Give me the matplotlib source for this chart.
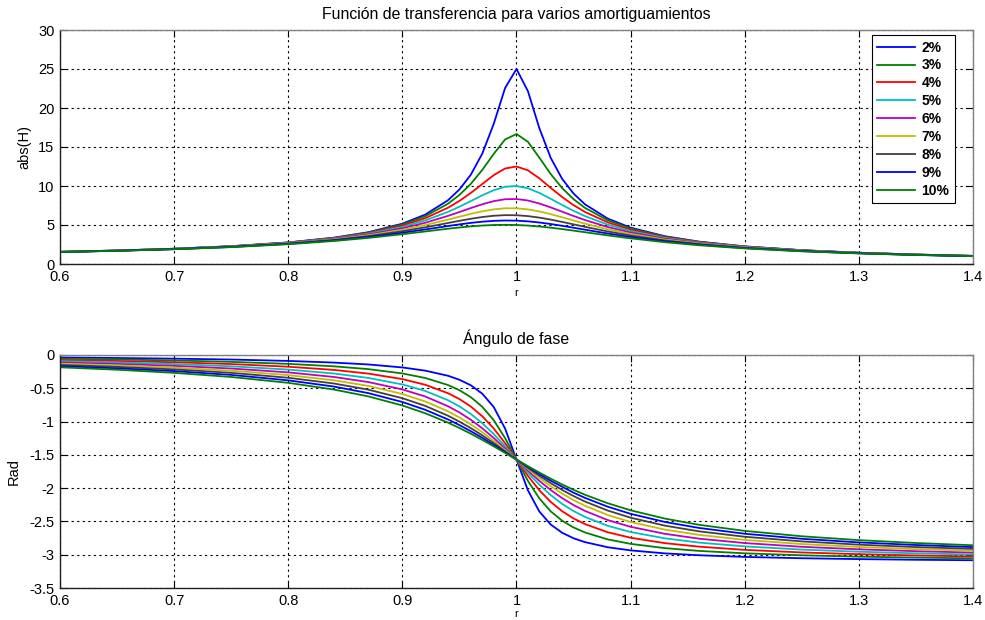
import matplotlib
matplotlib.use("Agg")
import matplotlib.pyplot as plt
from matplotlib.ticker import FuncFormatter

plt.rcParams['font.family'] = ['Liberation Sans', 'DejaVu Sans']

# ---------------- data ----------------
r = [0.60, 0.65, 0.70, 0.75, 0.80, 0.84, 0.87, 0.90, 0.92, 0.94, 0.95, 0.96, 0.97, 0.98, 0.99,
     1.00, 1.01, 1.02, 1.03, 1.04, 1.05, 1.06, 1.08, 1.10, 1.13, 1.16, 1.20, 1.25, 1.30, 1.35, 1.40]

labels = ['2%', '3%', '4%', '5%', '6%', '7%', '8%', '9%', '10%']

mag_02 = [1.561, 1.730, 1.958, 2.280, 2.767, 3.375, 4.072, 5.171, 6.331, 8.175, 9.557, 11.454, 14.145, 17.946, 22.564,
          25.0, 22.162, 17.416, 13.600, 10.917, 9.028, 7.653, 5.817, 4.661, 3.564, 2.868, 2.259, 1.771, 1.445, 1.213, 1.040]
mag_03 = [1.560, 1.728, 1.954, 2.274, 2.753, 3.348, 4.022, 5.063, 6.127, 7.732, 8.854, 10.279, 12.056, 14.107, 15.964,
          16.667, 15.664, 13.637, 11.526, 9.734, 8.312, 7.194, 5.600, 4.543, 3.508, 2.837, 2.243, 1.762, 1.440, 1.210, 1.038]
mag_04 = [1.558, 1.725, 1.949, 2.265, 2.735, 3.312, 3.955, 4.922, 5.871, 7.216, 8.089, 9.112, 10.252, 11.385, 12.246,
          12.5, 12.009, 10.982, 9.760, 8.581, 7.546, 6.672, 5.334, 4.392, 3.433, 2.795, 2.221, 1.750, 1.433, 1.206, 1.035]
mag_05 = [1.556, 1.721, 1.943, 2.253, 2.712, 3.266, 3.873, 4.757, 5.585, 6.684, 7.346, 8.068, 8.804, 9.461, 9.903,
          10.0, 9.711, 9.115, 8.357, 7.565, 6.815, 6.141, 5.041, 4.218, 3.344, 2.743, 2.193, 1.735, 1.424, 1.200, 1.031]
mag_06 = [1.553, 1.716, 1.935, 2.239, 2.684, 3.214, 3.780, 4.576, 5.287, 6.169, 6.666, 7.176, 7.660, 8.059, 8.302,
          8.333, 8.140, 7.758, 7.257, 6.706, 6.157, 5.638, 4.741, 4.032, 3.243, 2.684, 2.160, 1.718, 1.414, 1.193, 1.026]
mag_07 = [1.549, 1.711, 1.926, 2.223, 2.652, 3.154, 3.678, 4.386, 4.989, 5.692, 6.064, 6.427, 6.752, 7.003, 7.142,
          7.143, 7.002, 6.739, 6.389, 5.991, 5.580, 5.178, 4.448, 3.840, 3.136, 2.619, 2.123, 1.698, 1.401, 1.185, 1.021]
mag_08 = [1.545, 1.704, 1.915, 2.204, 2.617, 3.090, 3.570, 4.195, 4.700, 5.258, 5.538, 5.799, 6.022, 6.184, 6.264,
          6.25, 6.141, 5.948, 5.692, 5.396, 5.081, 4.765, 4.169, 3.650, 3.024, 2.549, 2.083, 1.675, 1.388, 1.176, 1.014]
mag_09 = [1.541, 1.697, 1.904, 2.184, 2.579, 3.022, 3.458, 4.005, 4.427, 4.869, 5.080, 5.270, 5.425, 5.531, 5.577,
          5.556, 5.467, 5.319, 5.124, 4.897, 4.651, 4.399, 3.908, 3.465, 2.911, 2.477, 2.040, 1.651, 1.373, 1.166, 1.008]
mag_10 = [1.536, 1.689, 1.891, 2.162, 2.538, 2.950, 3.345, 3.821, 4.172, 4.522, 4.683, 4.822, 4.931, 5.001, 5.025,
          5.0, 4.926, 4.809, 4.655, 4.476, 4.279, 4.075, 3.668, 3.288, 2.798, 2.402, 1.995, 1.625, 1.356, 1.155, 1.000]

ph_02 = [-0.037, -0.045, -0.055, -0.068, -0.089, -0.114, -0.142, -0.187, -0.235, -0.312, -0.372, -0.455, -0.581, -0.780, -1.105,
         -1.571, -2.032, -2.351, -2.547, -2.670, -2.753, -2.811, -2.888, -2.935, -2.980, -3.008, -3.033, -3.053, -3.066, -3.076, -3.083]
ph_03 = [-0.056, -0.067, -0.082, -0.103, -0.133, -0.170, -0.212, -0.277, -0.345, -0.451, -0.529, -0.634, -0.778, -0.978, -1.248,
         -1.571, -1.891, -2.154, -2.349, -2.489, -2.591, -2.666, -2.770, -2.837, -2.901, -2.943, -2.979, -3.009, -3.029, -3.043, -3.054]
ph_04 = [-0.075, -0.090, -0.109, -0.136, -0.176, -0.224, -0.279, -0.362, -0.447, -0.574, -0.662, -0.775, -0.920, -1.103, -1.325,
         -1.571, -1.815, -2.031, -2.207, -2.347, -2.455, -2.540, -2.663, -2.745, -2.826, -2.879, -2.927, -2.966, -2.992, -3.011, -3.026]
ph_05 = [-0.093, -0.112, -0.136, -0.170, -0.219, -0.278, -0.344, -0.442, -0.540, -0.679, -0.772, -0.886, -1.024, -1.187, -1.372,
         -1.571, -1.767, -1.948, -2.105, -2.236, -2.344, -2.432, -2.566, -2.659, -2.754, -2.818, -2.875, -2.923, -2.955, -2.979, -2.997]
ph_06 = [-0.112, -0.134, -0.163, -0.203, -0.261, -0.330, -0.406, -0.517, -0.623, -0.770, -0.863, -0.973, -1.101, -1.246, -1.405,
         -1.571, -1.735, -1.890, -2.029, -2.150, -2.254, -2.342, -2.480, -2.581, -2.686, -2.759, -2.825, -2.881, -2.919, -2.947, -2.968]
ph_07 = [-0.131, -0.156, -0.190, -0.236, -0.302, -0.380, -0.464, -0.586, -0.698, -0.846, -0.938, -1.043, -1.160, -1.290, -1.428,
         -1.571, -1.712, -1.847, -1.970, -2.082, -2.180, -2.265, -2.404, -2.509, -2.623, -2.702, -2.777, -2.840, -2.884, -2.916, -2.940]
ph_08 = [-0.149, -0.178, -0.216, -0.268, -0.342, -0.428, -0.520, -0.649, -0.764, -0.912, -1.001, -1.099, -1.207, -1.323, -1.446,
         -1.571, -1.695, -1.813, -1.925, -2.027, -2.119, -2.201, -2.337, -2.444, -2.563, -2.649, -2.730, -2.800, -2.849, -2.885, -2.912]
ph_09 = [-0.167, -0.200, -0.242, -0.299, -0.381, -0.474, -0.572, -0.706, -0.823, -0.968, -1.053, -1.145, -1.244, -1.350, -1.460,
         -1.571, -1.681, -1.787, -1.888, -1.979, -2.068, -2.146, -2.279, -2.386, -2.508, -2.598, -2.685, -2.761, -2.815, -2.854, -2.885]
ph_10 = [-0.185, -0.221, -0.268, -0.330, -0.418, -0.519, -0.621, -0.758, -0.875, -1.016, -1.097, -1.183, -1.275, -1.371, -1.471,
         -1.571, -1.670, -1.766, -1.858, -1.945, -2.025, -2.099, -2.227, -2.333, -2.457, -2.551, -2.642, -2.723, -2.781, -2.824, -2.858]

mags = [mag_02, mag_03, mag_04, mag_05, mag_06, mag_07, mag_08, mag_09, mag_10]
phases = [ph_02, ph_03, ph_04, ph_05, ph_06, ph_07, ph_08, ph_09, ph_10]

x_ticks = [0.6, 0.7, 0.8, 0.9, 1.0, 1.1, 1.2, 1.3, 1.4]
y1_ticks = [0, 5, 10, 15, 20, 25, 30]
y2_ticks = [-3.5, -3, -2.5, -2, -1.5, -1, -0.5, 0]

# MATLAB-style colour order
colors = ['#0000ff', '#008000', '#ff0000', '#00bfbf', '#bf00bf', '#bfbf00', '#404040', '#0000ff', '#008000']

# ---------------- figure ----------------
W, H = 985, 620
L, R = 60, 973
fig = plt.figure(figsize=(W / 100, H / 100), dpi=100)
ax1 = fig.add_axes([L / W, 1 - 264 / H, (R - L) / W, 234 / H])
ax2 = fig.add_axes([L / W, 1 - 588 / H, (R - L) / W, 233 / H])

fmt = FuncFormatter(lambda v, p: ('%g' % round(v, 4)))


def style(ax):
    ax.set_xlim(0.6, 1.4)
    ax.set_xticks(x_ticks)
    ax.xaxis.set_major_formatter(fmt)
    ax.yaxis.set_major_formatter(fmt)
    ax.grid(True, color='black', linestyle=(0, (2, 3)), linewidth=0.8)
    ax.tick_params(direction='in', length=5, width=0.8, top=True, right=True,
                   labelsize=10.5, pad=4, colors='black')
    for s in ax.spines.values():
        s.set_color('#202020')
        s.set_linewidth(1.0)
    ax.spines['top'].set_color('#808080')
    ax.spines['right'].set_color('#808080')
    ax.set_axisbelow(True)


for m, c, lab in zip(mags, colors, labels):
    ax1.plot(r, m, color=c, linewidth=1.3, label=lab)
style(ax1)
ax1.set_ylim(0, 30)
ax1.set_yticks(y1_ticks)
ax1.set_title('Función de transferencia para varios amortiguamientos', fontsize=11.4, pad=8)
ax1.set_xlabel('r', fontsize=8, labelpad=3)
ax1.set_ylabel('abs(H)', fontsize=10.5, labelpad=5)
leg = ax1.legend(loc='upper right', bbox_to_anchor=(1 - 18 / (R - L), 1 - 5 / 234),
                 fancybox=False, framealpha=1, edgecolor='black',
                 prop={'weight': 'bold', 'size': 10}, handlelength=2.7,
                 labelspacing=0.28, borderpad=0.4, handletextpad=0.5, borderaxespad=0)
leg.get_frame().set_linewidth(0.8)

for p, c in zip(phases, colors):
    ax2.plot(r, p, color=c, linewidth=1.3)
style(ax2)
ax2.set_ylim(-3.5, 0)
ax2.set_yticks(y2_ticks)
ax2.set_title('Ángulo de fase', fontsize=11.4, pad=8)
ax2.set_xlabel('r', fontsize=8, labelpad=1)
ax2.set_ylabel('Rad', fontsize=10.5, labelpad=6)

fig.savefig('out.png', dpi=100)
